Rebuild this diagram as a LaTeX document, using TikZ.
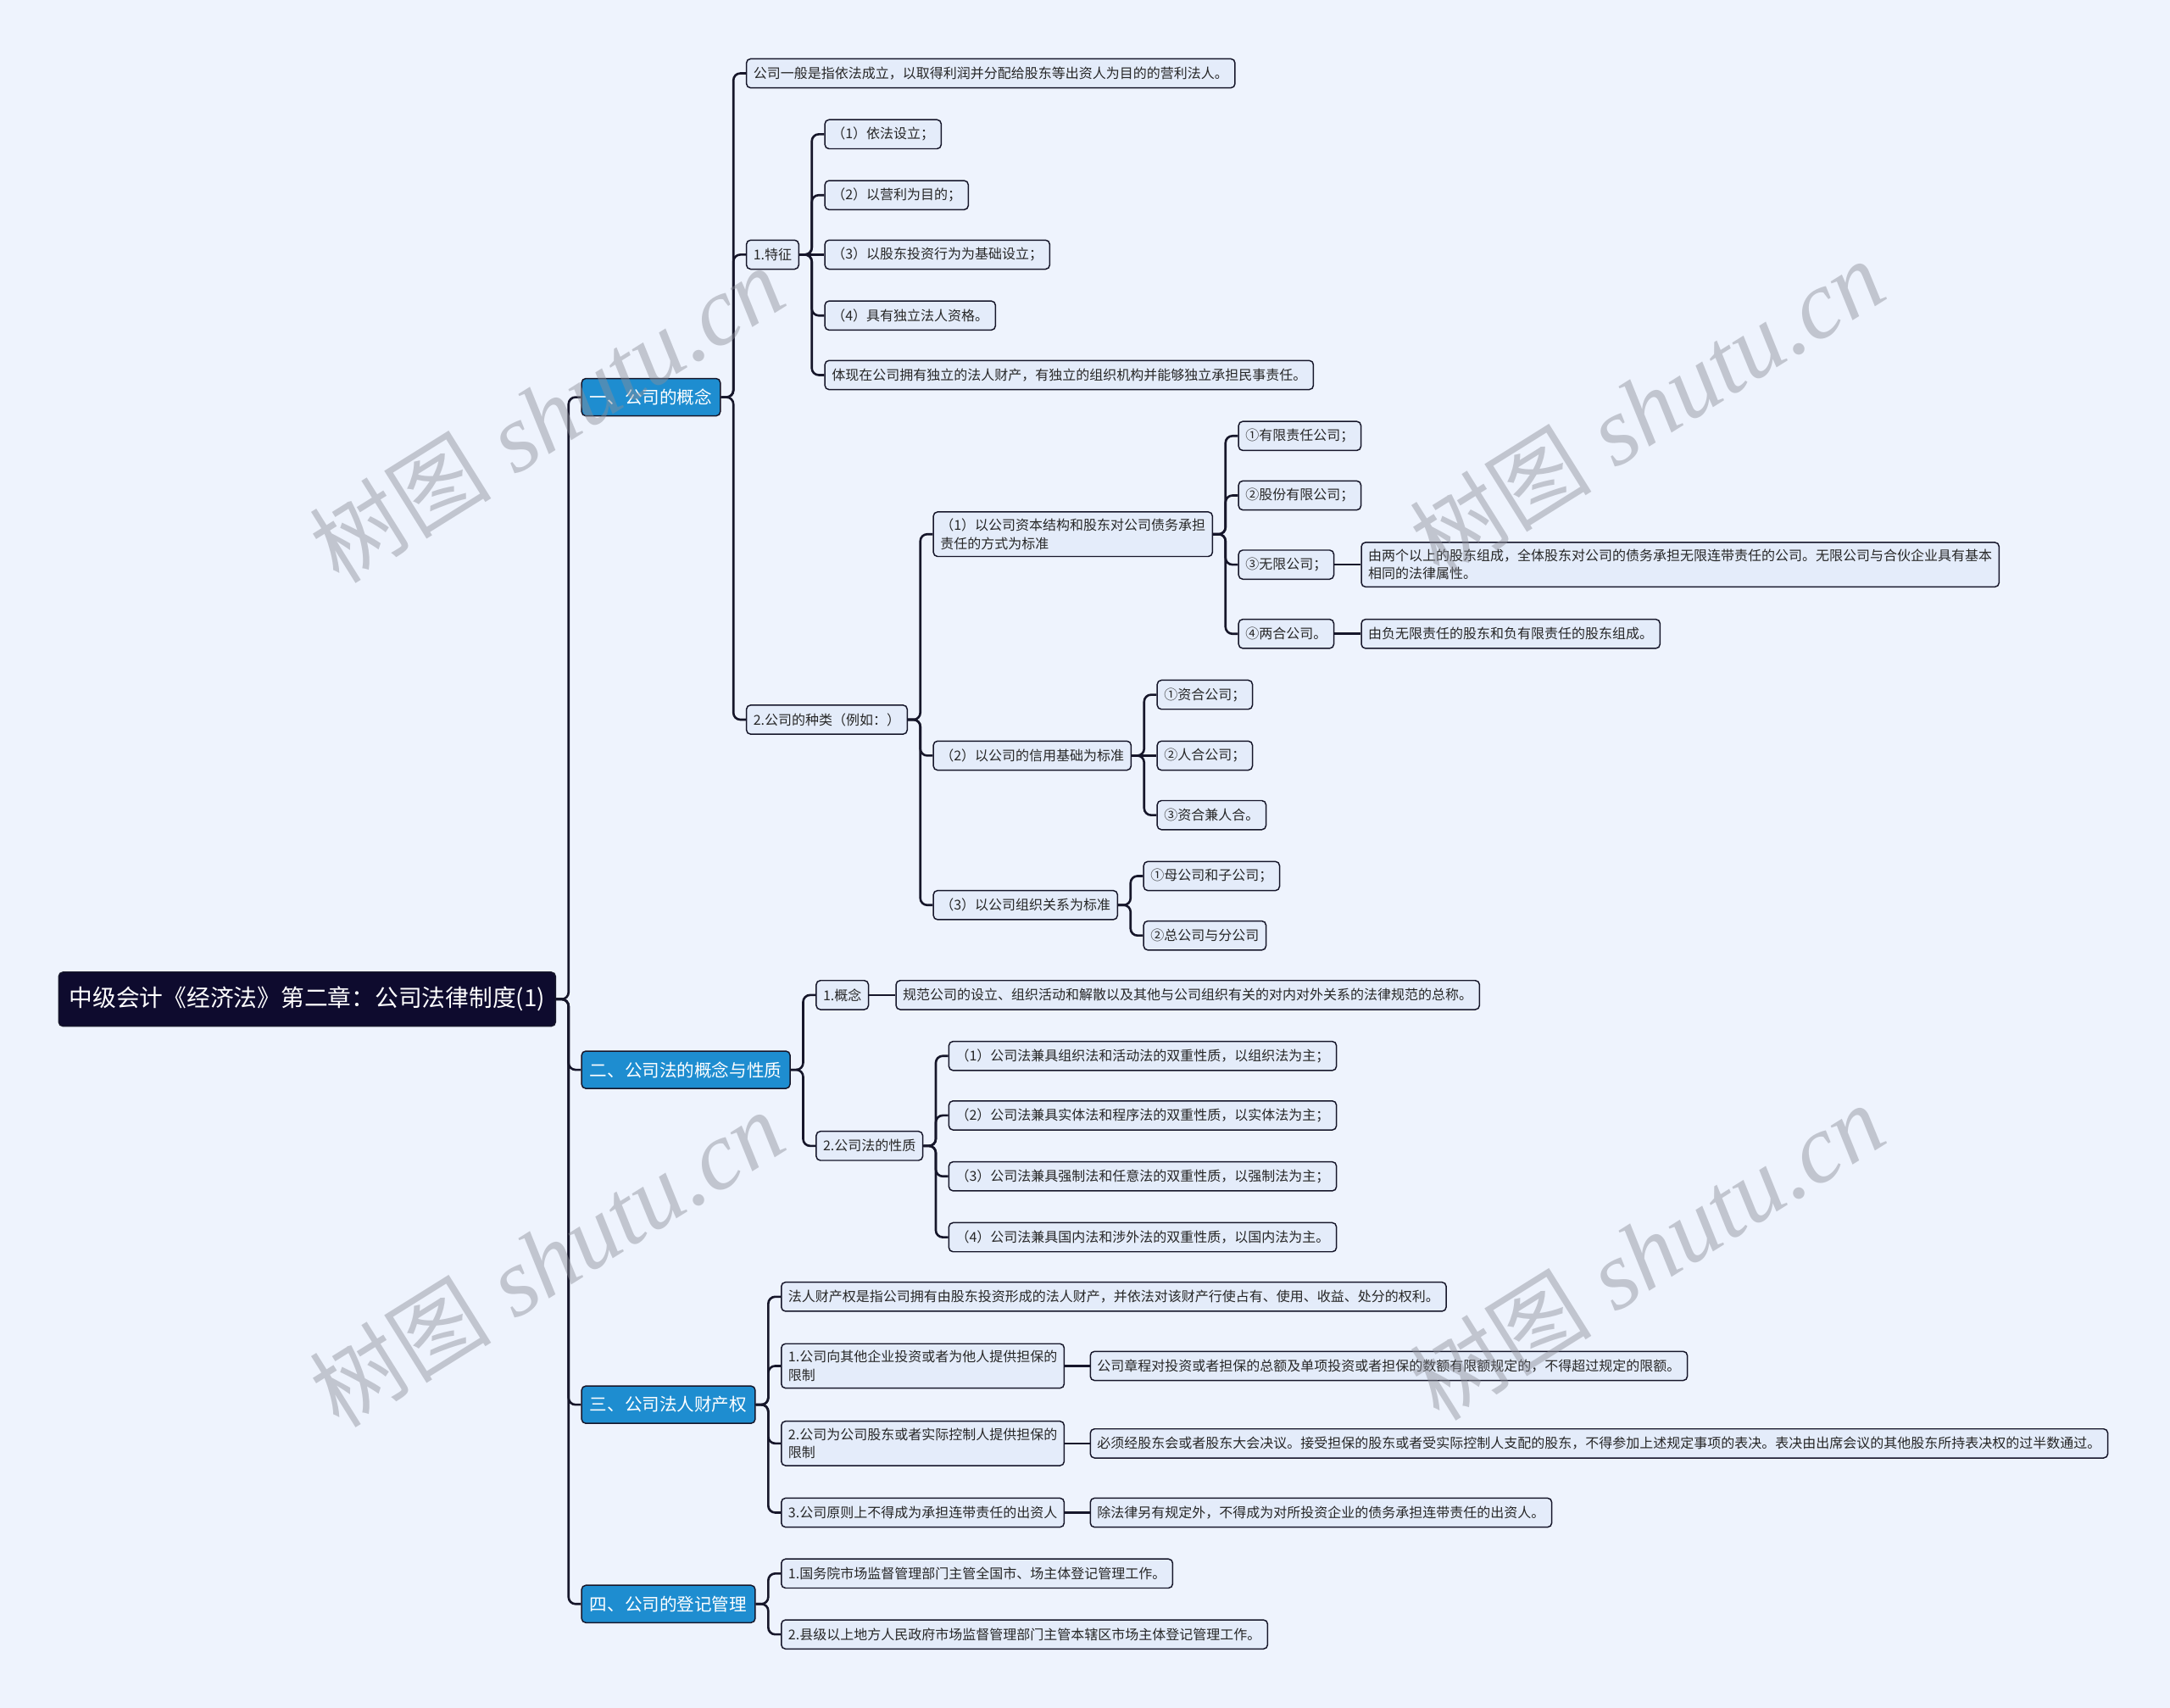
\documentclass[tikz,border=0pt]{standalone}
\usepackage{fontspec}
\newfontfamily\cjk{Noto Sans CJK SC}
\newfontfamily\wmserif{Liberation Serif}
\usetikzlibrary{positioning}
\usepackage{xcolor}

\definecolor{bgcol}{RGB}{238,243,253}
\definecolor{leaffill}{RGB}{228,236,250}
\definecolor{linecol}{RGB}{22,22,42}
\definecolor{rootfill}{RGB}{14,11,46}
\definecolor{mainfill}{RGB}{30,141,208}
\definecolor{wmcol}{RGB}{140,142,152}

\begin{document}
\begin{tikzpicture}[
  x=1pt, y=1pt,
  node distance = 18pt,
  base/.style = {draw=linecol, line width=0.9pt, rounded corners=3pt, anchor=west},
  root/.style = {base, fill=rootfill, text=white, font=\cjk\fontsize{17}{20}\selectfont,
    minimum height=39pt, inner xsep=7.5pt},
  topic/.style = {base, fill=mainfill, text=white, font=\cjk\fontsize{12.6}{15}\selectfont,
    minimum height=27pt, inner xsep=6pt},
  leaf/.style = {base, fill=leaffill, text=black!85, font=\cjk\fontsize{9.8}{13}\selectfont,
    minimum height=21pt, inner xsep=5pt, inner ysep=5pt, align=left},
  link/.style = {draw=linecol, line width=1.6pt, rounded corners=5pt},
  wm/.style = {text=wmcol, opacity=0.45, rotate=32, inner sep=0pt}
]
  \useasboundingbox (0,0) rectangle (1568,-1234);
  \fill[bgcol] (0,0) rectangle (1568,-1234);

  % root
  \node[root] (root) at (42,-722) {中级会计《经济法》第二章：公司法律制度(1)};

  % main topics
  \node[topic, right=18pt of root, yshift=435pt] (conc) {一、公司的概念};
  \node[topic, right=18pt of root, yshift=-51pt] (law) {二、公司法的概念与性质};
  \node[topic, right=18pt of root, yshift=-293pt] (prop) {三、公司法人财产权};
  \node[topic, right=18pt of root, yshift=-437pt] (reg) {四、公司的登记管理};

  % 一、公司的概念
  \node[leaf, right=of conc, yshift=234pt] (def) {公司一般是指依法成立，以取得利润并分配给股东等出资人为目的的营利法人。};
  \node[leaf, right=of conc, yshift=103pt] (feat) {1.特征};
  \node[leaf, right=of conc, yshift=-233pt] (kind) {2.公司的种类（例如：）};

  \node[leaf, right=of feat, yshift=87pt] (feat1) {（1）依法设立；};
  \node[leaf, right=of feat, yshift=43pt] (feat2) {（2）以营利为目的；};
  \node[leaf, right=of feat] (feat3) {（3）以股东投资行为为基础设立；};
  \node[leaf, right=of feat, yshift=-44pt] (feat4) {（4）具有独立法人资格。};
  \node[leaf, right=of feat, yshift=-87pt] (feat5) {体现在公司拥有独立的法人财产，有独立的组织机构并能够独立承担民事责任。};

  \node[leaf, right=of kind, yshift=134pt] (liab) {（1）以公司资本结构和股东对公司债务承担\\责任的方式为标准};
  \node[leaf, right=of kind, yshift=-26pt] (cred) {（2）以公司的信用基础为标准};
  \node[leaf, right=of kind, yshift=-134pt] (orgn) {（3）以公司组织关系为标准};

  \node[leaf, right=of liab, yshift=71pt] (liab1) {①有限责任公司；};
  \node[leaf, right=of liab, yshift=28pt] (liab2) {②股份有限公司；};
  \node[leaf, right=of liab, yshift=-22pt] (liab3) {③无限公司；};
  \node[leaf, right=of liab, yshift=-72pt] (liab4) {④两合公司。};
  \node[leaf, right=19pt of liab3] (liab3n) {由两个以上的股东组成，全体股东对公司的债务承担无限连带责任的公司。无限公司与合伙企业具有基本\\相同的法律属性。};
  \node[leaf, right=19pt of liab4] (liab4n) {由负无限责任的股东和负有限责任的股东组成。};

  \node[leaf, right=of cred, yshift=44pt] (cred1) {①资合公司；};
  \node[leaf, right=of cred] (cred2) {②人合公司；};
  \node[leaf, right=of cred, yshift=-43pt] (cred3) {③资合兼人合。};

  \node[leaf, right=of orgn, yshift=21pt] (orgn1) {①母公司和子公司；};
  \node[leaf, right=of orgn, yshift=-22pt] (orgn2) {②总公司与分公司};

  % 二、公司法的概念与性质
  \node[leaf, right=of law, yshift=54pt] (lawdef) {1.概念};
  \node[leaf, right=19pt of lawdef] (lawdefn) {规范公司的设立、组织活动和解散以及其他与公司组织有关的对内对外关系的法律规范的总称。};
  \node[leaf, right=of law, yshift=-55pt] (nat) {2.公司法的性质};

  \node[leaf, right=of nat, yshift=65pt] (nat1) {（1）公司法兼具组织法和活动法的双重性质，以组织法为主；};
  \node[leaf, right=of nat, yshift=22pt] (nat2) {（2）公司法兼具实体法和程序法的双重性质，以实体法为主；};
  \node[leaf, right=of nat, yshift=-22pt] (nat3) {（3）公司法兼具强制法和任意法的双重性质，以强制法为主；};
  \node[leaf, right=of nat, yshift=-66pt] (nat4) {（4）公司法兼具国内法和涉外法的双重性质，以国内法为主。};

  % 三、公司法人财产权
  \node[leaf, right=of prop, yshift=78pt] (pdef) {法人财产权是指公司拥有由股东投资形成的法人财产，并依法对该财产行使占有、使用、收益、处分的权利。};
  \node[leaf, right=of prop, yshift=28pt] (lim1) {1.公司向其他企业投资或者为他人提供担保的\\限制};
  \node[leaf, right=of prop, yshift=-28pt] (lim2) {2.公司为公司股东或者实际控制人提供担保的\\限制};
  \node[leaf, right=of prop, yshift=-78pt] (lim3) {3.公司原则上不得成为承担连带责任的出资人};
  \node[leaf, right=of lim1] (lim1n) {公司章程对投资或者担保的总额及单项投资或者担保的数额有限额规定的，不得超过规定的限额。};
  \node[leaf, right=of lim2] (lim2n) {必须经股东会或者股东大会决议。接受担保的股东或者受实际控制人支配的股东，不得参加上述规定事项的表决。表决由出席会议的其他股东所持表决权的过半数通过。};
  \node[leaf, right=of lim3] (lim3n) {除法律另有规定外，不得成为对所投资企业的债务承担连带责任的出资人。};

  % 四、公司的登记管理
  \node[leaf, right=of reg, yshift=22pt] (reg1) {1.国务院市场监督管理部门主管全国市、场主体登记管理工作。};
  \node[leaf, right=of reg, yshift=-22pt] (reg2) {2.县级以上地方人民政府市场监督管理部门主管本辖区市场主体登记管理工作。};

  % connectors
  \foreach \p/\c in {root/conc, root/law, root/prop, root/reg,
      conc/def, conc/feat, conc/kind,
      feat/feat1, feat/feat2, feat/feat4, feat/feat5,
      kind/liab, kind/cred, kind/orgn,
      liab/liab1, liab/liab2, liab/liab3, liab/liab4,
      cred/cred1, cred/cred3, orgn/orgn1, orgn/orgn2,
      law/lawdef, law/nat,
      nat/nat1, nat/nat2, nat/nat3, nat/nat4,
      prop/pdef, prop/lim1, prop/lim2, prop/lim3,
      reg/reg1, reg/reg2}
    \draw[link] (\p.east) -- ++(9,0) |- (\c.west);
  \foreach \p/\c in {feat/feat3, cred/cred2, liab3/liab3n, liab4/liab4n,
      lawdef/lawdefn, lim1/lim1n, lim2/lim2n, lim3/lim3n}
    \draw[link] (\p.east) -- (\c.west);

  % watermark
  \foreach \n/\x/\y in {wma/395/-300, wmb/1190/-295, wmc/395/-910, wmd/1190/-905}
    \node[wm] (\n) at (\x,\y) {{\cjk\fontsize{66}{70}\selectfont 树图}{\wmserif\itshape\fontsize{70}{74}\selectfont\ shutu.cn}};
\end{tikzpicture}
\end{document}
